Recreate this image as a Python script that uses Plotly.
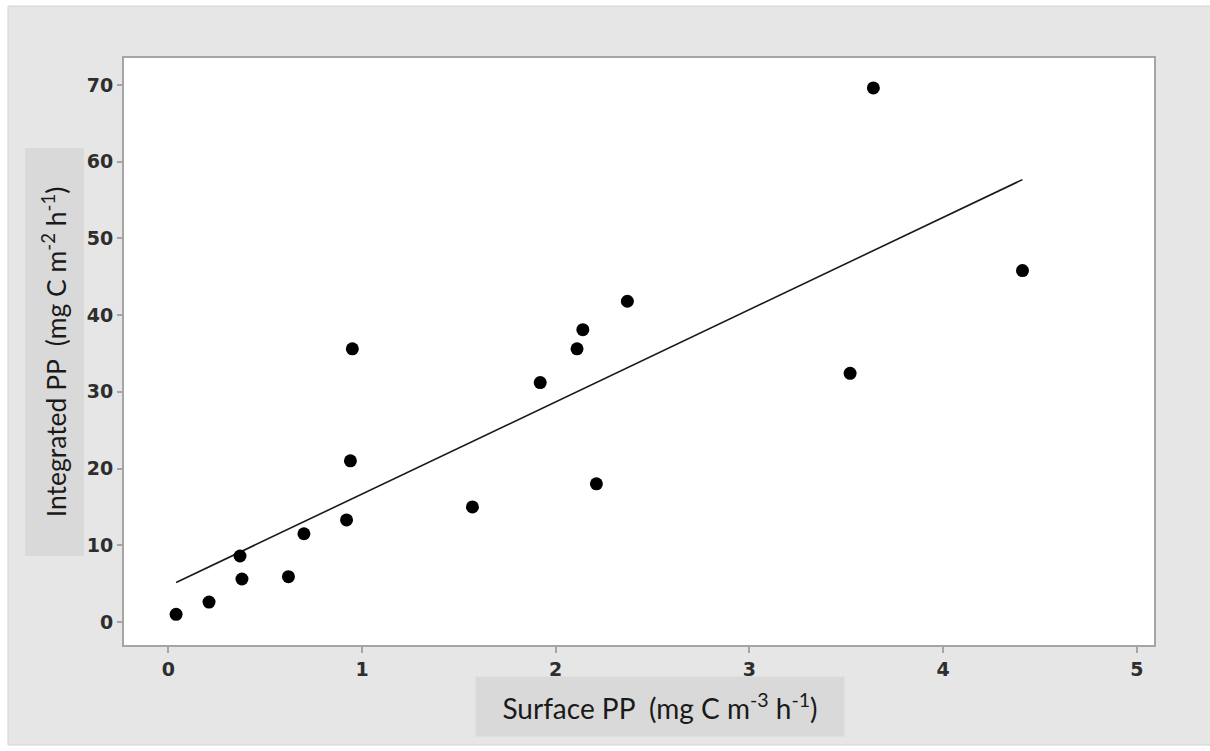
import numpy as np
import plotly.graph_objects as go

# Data
surface_pp = [0.04, 0.21, 0.37, 0.38, 0.62, 0.70, 0.92, 0.94, 0.95, 1.57,
              1.92, 2.11, 2.14, 2.21, 2.37, 3.52, 3.64, 4.41]
integrated_pp = [1.0, 2.6, 8.6, 5.6, 5.9, 11.5, 13.3, 21.0, 35.6, 15.0,
                 31.2, 35.6, 38.1, 18.0, 41.8, 32.4, 69.6, 45.8]

x_ticks = [0, 1, 2, 3, 4, 5]
y_ticks = [0, 10, 20, 30, 40, 50, 60, 70]

x_title = "Surface PP\u00a0\u00a0(mg C m<sup>-3</sup> h<sup>-1</sup>)"
y_title = "Integrated PP\u00a0\u00a0(mg C m<sup>-2</sup> h<sup>-1</sup>)"

# Least-squares fit line
slope, intercept = np.polyfit(surface_pp, integrated_pp, 1)
fit_x = [min(surface_pp), max(surface_pp)]
fit_y = [slope * v + intercept for v in fit_x]

W, H = 1210, 751
ml, mr, mt, mb = 124, 56, 58, 106
pw, ph = W - ml - mr, H - mt - mb


def px(x):
    return (x - ml) / pw


def py(y):
    return (H - mb - y) / ph


fig = go.Figure()
fig.add_trace(go.Scatter(x=fit_x, y=fit_y, mode="lines",
                         line=dict(color="#1a1a1a", width=1.6),
                         showlegend=False, hoverinfo="skip"))
fig.add_trace(go.Scatter(x=surface_pp, y=integrated_pp, mode="markers",
                         marker=dict(color="black", size=13, line=dict(width=0)),
                         showlegend=False))

tickfont = dict(family="DejaVu Sans", size=19, color="#2e2e2e", weight="bold")

fig.update_layout(
    width=W, height=H,
    margin=dict(l=ml, r=mr, t=mt, b=mb),
    paper_bgcolor="white",
    plot_bgcolor="white",
    xaxis=dict(range=[-0.229, 5.089], tickvals=x_ticks, ticktext=[str(v) for v in x_ticks],
               showgrid=False, zeroline=False, showline=True, mirror=True,
               linecolor="#a5a5a5", linewidth=2, ticks="outside", ticklen=6,
               tickcolor="#a5a5a5", tickwidth=1.5, tickfont=tickfont),
    yaxis=dict(range=[-3.0, 73.5], tickvals=y_ticks, ticktext=[str(v) for v in y_ticks],
               showgrid=False, zeroline=False, showline=True, mirror=True,
               linecolor="#a5a5a5", linewidth=2, ticks="outside", ticklen=5,
               tickcolor="#a5a5a5", tickwidth=1.5, tickfont=tickfont),
    shapes=[
        dict(type="rect", xref="paper", yref="paper", layer="below",
             x0=px(8), x1=px(1212), y0=py(745), y1=py(6),
             fillcolor="#e6e6e6", line=dict(color="#d2d2d2", width=1)),
        dict(type="rect", xref="paper", yref="paper", layer="below",
             x0=0, x1=1, y0=0, y1=1, fillcolor="white", line=dict(width=0)),
    ],
    annotations=[
        dict(text=x_title, xref="paper", yref="paper", x=px(660), y=py(706.5),
             xanchor="center", yanchor="middle", showarrow=False,
             width=366, height=57, bgcolor="#d9d9d9",
             font=dict(family="Lato", size=28, color="#1a1a1a")),
        dict(text=y_title, xref="paper", yref="paper", x=px(54), y=py(352.5),
             xanchor="center", yanchor="middle", showarrow=False, textangle=-90,
             width=405, height=56, bgcolor="#d9d9d9",
             font=dict(family="Lato", size=26.5, color="#1a1a1a")),
    ],
)

fig.write_html("out.html")
